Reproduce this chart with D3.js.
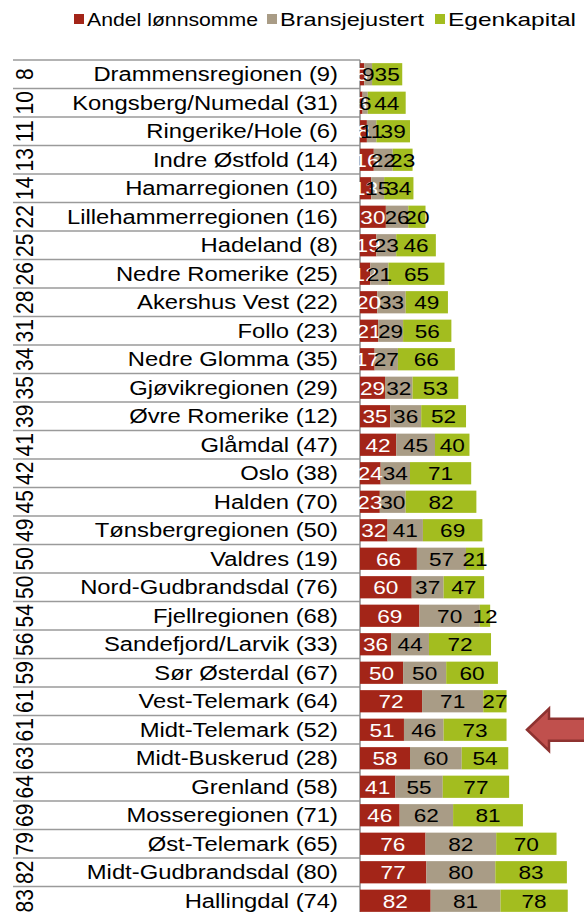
<!DOCTYPE html>
<html>
<head>
<meta charset="utf-8">
<script src="https://cdn.jsdelivr.net/npm/d3@7"></script>
<style>
  html, body { margin: 0; padding: 0; background: #fff; }
  svg { display: block; font-family: "Liberation Sans", Arial, sans-serif; }
</style>
</head>
<body>
<svg id="chart" width="584" height="912"></svg>
<script>
// Regions, sorted by combined bar length
const regions = [
  "Drammensregionen (9)", "Kongsberg/Numedal (31)", "Ringerike/Hole (6)", "Indre Østfold (14)",
  "Hamarregionen (10)", "Lillehammerregionen (16)", "Hadeland (8)", "Nedre Romerike (25)",
  "Akershus Vest (22)", "Follo (23)", "Nedre Glomma (35)", "Gjøvikregionen (29)",
  "Øvre Romerike (12)", "Glåmdal (47)", "Oslo (38)", "Halden (70)", "Tønsbergregionen (50)",
  "Valdres (19)", "Nord-Gudbrandsdal (76)", "Fjellregionen (68)", "Sandefjord/Larvik (33)",
  "Sør Østerdal (67)", "Vest-Telemark (64)", "Midt-Telemark (52)", "Midt-Buskerud (28)",
  "Grenland (58)", "Mosseregionen (71)", "Øst-Telemark (65)", "Midt-Gudbrandsdal (80)",
  "Hallingdal (74)"
];
// Outer category level (rotated numbers)
const scores = [8, 10, 11, 13, 14, 22, 25, 26, 28, 31, 34, 35, 39, 41, 42, 45, 49, 50, 50, 54,
                56, 59, 61, 61, 63, 64, 69, 79, 82, 83];

const seriesNames = ["Andel lønnsomme", "Bransjejustert", "Egenkapital"];
const andelLonnsomme = [5, 3, 8, 16, 13, 30, 19, 12, 20, 21, 17, 29, 35, 42, 24, 23, 32, 66, 60, 69,
                        36, 50, 72, 51, 58, 41, 46, 76, 77, 82];
const bransjejustert = [9, 6, 11, 22, 15, 26, 23, 21, 33, 29, 27, 32, 36, 45, 34, 30, 41, 57, 37, 70,
                        44, 50, 71, 46, 60, 55, 62, 82, 80, 81];
const egenkapital    = [35, 44, 39, 23, 34, 20, 46, 65, 49, 56, 66, 53, 52, 40, 71, 82, 69, 21, 47, 12,
                        72, 60, 27, 73, 54, 77, 81, 70, 83, 78];
const highlighted = "Midt-Telemark (52)";

const colors = ["#a32518", "#a99c86", "#a3bd1f"];
const labelColors = ["#ffffff", "#000000", "#000000"];
const stretch = 1.19; // horizontal text stretch

const svg = d3.select("#chart");

const rows = regions.map((r, i) => ({
  region: r, score: scores[i],
  [seriesNames[0]]: andelLonnsomme[i],
  [seriesNames[1]]: bransjejustert[i],
  [seriesNames[2]]: egenkapital[i]
}));

const stacked = d3.stack().keys(seriesNames)(rows);

const axisX = 360;
const plotTop = 60;
const y = d3.scaleBand().domain(regions).range([plotTop, plotTop + regions.length * 28.5]).paddingInner(0.22).paddingOuter(0.11);
const x = d3.scaleLinear().domain([0, 250]).range([axisX, axisX + 250 * 0.862]);

// Category grid: horizontal separators across both label levels
const step = (y.range()[1] - y.range()[0]) / regions.length;
const bounds = d3.range(regions.length + 1).map(i => plotTop + i * step);
svg.append("g").selectAll("line").data(bounds).join("line")
  .attr("x1", 13).attr("x2", axisX)
  .attr("y1", d => d).attr("y2", d => d)
  .attr("stroke", "#9a9a9a").attr("stroke-width", 1.3);

// Vertical axis line
svg.append("line")
  .attr("x1", axisX).attr("x2", axisX)
  .attr("y1", plotTop).attr("y2", plotTop + regions.length * step)
  .attr("stroke", "#8c8c8c").attr("stroke-width", 1.5);

// Bars
const layer = svg.append("g").selectAll("g").data(stacked).join("g")
  .attr("fill", (d, i) => colors[i]);
layer.selectAll("rect").data(d => d).join("rect")
  .attr("x", d => x(d[0]))
  .attr("width", d => x(d[1]) - x(d[0]))
  .attr("y", d => y(d.data.region))
  .attr("height", y.bandwidth());

// Segment value labels
const valLayer = svg.append("g").attr("font-size", 19).attr("text-anchor", "middle");
stacked.forEach((s, si) => {
  valLayer.append("g").attr("fill", labelColors[si]).selectAll("text").data(s).join("text")
    .attr("transform", d => `translate(${(x(d[0]) + x(d[1])) / 2},${y(d.data.region) + y.bandwidth() / 2}) scale(${stretch},1)`)
    .attr("dy", "0.36em")
    .text(d => d[1] - d[0]);
});

// Region labels
svg.append("g").attr("font-size", 20).attr("text-anchor", "end").attr("fill", "#000")
  .selectAll("text").data(regions).join("text")
  .attr("transform", d => `translate(338,${y(d) + y.bandwidth() / 2}) scale(${stretch},1)`)
  .attr("dy", "0.36em")
  .text(d => d);

// Outer level numbers, rotated
svg.append("g").attr("font-size", 21).attr("text-anchor", "middle").attr("fill", "#000")
  .selectAll("text").data(rows).join("text")
  .attr("transform", d => `translate(25,${y(d.region) + y.bandwidth() / 2}) scale(1.1,1) rotate(-90)`)
  .attr("dy", "0.36em")
  .text(d => d.score);

// Legend
const legendItems = [
  {name: seriesNames[0], x: 74, w: 171},
  {name: seriesNames[1], x: 267, w: 144},
  {name: seriesNames[2], x: 435, w: 128}
];
const lg = svg.append("g").attr("font-size", 19);
legendItems.forEach((it, i) => {
  lg.append("rect").attr("x", it.x).attr("y", 14).attr("width", 10).attr("height", 10).attr("fill", colors[i]);
  lg.append("text")
    .attr("x", it.x + 13).attr("y", 19)
    .attr("textLength", it.w).attr("lengthAdjust", "spacingAndGlyphs")
    .attr("dy", "0.36em").attr("fill", "#000").text(it.name);
});

// Pointer arrow at the highlighted region
const ay = y(highlighted) + y.bandwidth() / 2;
const arrowPts = [[527, ay], [549, ay - 21], [549, ay - 11], [590, ay - 11], [590, ay + 11], [549, ay + 11], [549, ay + 21]];
svg.append("path")
  .attr("d", d3.line()(arrowPts) + "Z")
  .attr("fill", "#c0504d").attr("stroke", "#8e3230").attr("stroke-width", 2.5).attr("stroke-linejoin", "miter");
</script>
</body>
</html>
